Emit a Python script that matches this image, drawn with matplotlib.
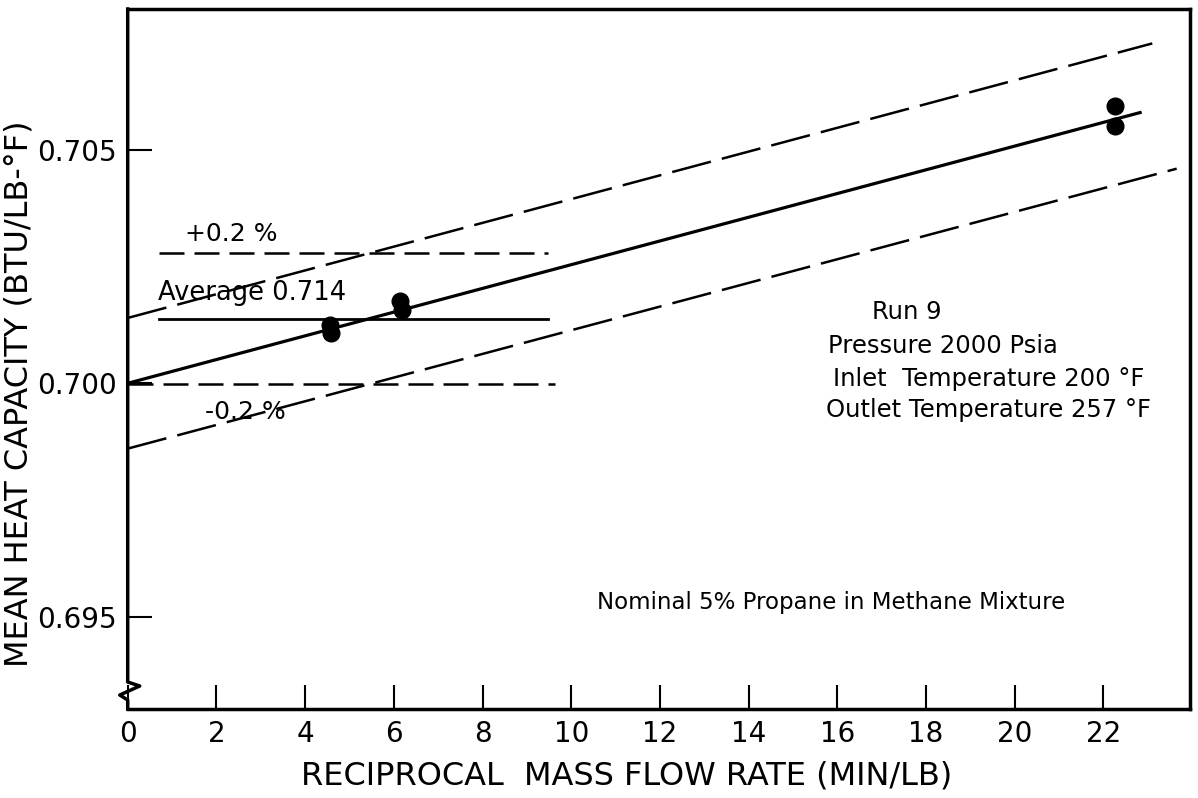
import matplotlib.pyplot as plt

# Measured points: reciprocal mass flow rate (min/lb) and mean heat capacity
flow = [4.55, 4.58, 6.15, 6.18, 22.25, 22.25]
cp = [0.70125, 0.70108, 0.70177, 0.70157, 0.70594, 0.70552]

# Straight-line fit through the points
fit_x = [0.0, 22.86]
fit_y = [0.70000, 0.70581]
fit_slope = (fit_y[1] - fit_y[0]) / (fit_x[1] - fit_x[0])
upper_end = 23.10
lower_end = 23.65

# Average value and its +/- 0.2 % band
avg = 0.70138
avg_x = [0.71, 9.47]
low_x = [0.0, 9.63]
band = 0.002

xticks = [0, 2, 4, 6, 8, 10, 12, 14, 16, 18, 20, 22]
yticks = [0.695, 0.700, 0.705]
ytick_labels = ['0.695', '0.700', '0.705']

run_info = ['Run 9', 'Pressure 2000 Psia', 'Inlet  Temperature 200 °F', 'Outlet Temperature 257 °F']
run_x = [16.78, 15.79, 15.90, 15.74]
run_y = [0.70153, 0.70080, 0.70009, 0.69943]


def fit(x):
    return fit_y[0] + fit_slope * x


fig = plt.figure(figsize=(11.98, 7.98), dpi=100)
ax = fig.add_axes([0.1066, 0.1115, 0.8867, 0.8772])
ax.set_xlim(0, 23.95)
ax.set_ylim(0.69302, 0.70802)

# fit line and +/- 0.2 % lines around it
ax.plot(fit_x, fit_y, color='black', lw=2.3, solid_capstyle='butt')
ax.plot([0, upper_end], [fit(0) * (1 + band), fit(upper_end) * (1 + band)],
        color='black', lw=1.8, dashes=(16, 4.5))
ax.plot([0, lower_end], [fit(0) * (1 - band), fit(lower_end) * (1 - band)],
        color='black', lw=1.8, dashes=(16, 4.5))

# average and its band
ax.plot(avg_x, [avg, avg], color='black', lw=2.0)
ax.plot(avg_x, [avg * (1 + band)] * 2, color='black', lw=1.8, dashes=(10, 4))
ax.plot(low_x, [avg * (1 - band)] * 2, color='black', lw=1.8, dashes=(10, 4))

ax.plot(flow, cp, 'o', color='black', markersize=12, clip_on=False)

ax.text(1.29, 0.7032, '+0.2 %', fontsize=18, va='center')
ax.text(0.68, 0.70194, 'Average 0.714', fontsize=18.5, va='center')
ax.text(1.74, 0.69939, '-0.2 %', fontsize=18, va='center')
for label, x, y in zip(run_info, run_x, run_y):
    ax.text(x, y, label, fontsize=17.5, va='center')
ax.text(10.58, 0.69531, 'Nominal 5% Propane in Methane Mixture', fontsize=16.5, va='center')

ax.set_xticks(xticks)
ax.set_xticklabels([str(t) for t in xticks])
ax.set_yticks(yticks)
ax.set_yticklabels(ytick_labels)
ax.tick_params(direction='in', length=17, width=1.5, labelsize=20, pad=8)

ax.set_xlabel('RECIPROCAL  MASS FLOW RATE (MIN/LB)', fontsize=23)
ax.set_ylabel('MEAN HEAT CAPACITY (BTU/LB-°F)', fontsize=23)
ax.xaxis.set_label_coords(0.47, -0.074)
ax.yaxis.set_label_coords(-0.088, 0.45)

for side in ['top', 'right', 'bottom']:
    ax.spines[side].set_linewidth(2.5)
ax.spines['left'].set_visible(False)

# left axis drawn by hand with a break mark near the bottom
brk_x = [0, 0, 0.0113, -0.0075, 0, 0]
brk_y = [1, 0.0386, 0.0329, 0.02, 0.0129, 0]
ax.plot(brk_x, brk_y, color='black', lw=2.5, transform=ax.transAxes, clip_on=False)

fig.savefig('out.png', dpi=100)
